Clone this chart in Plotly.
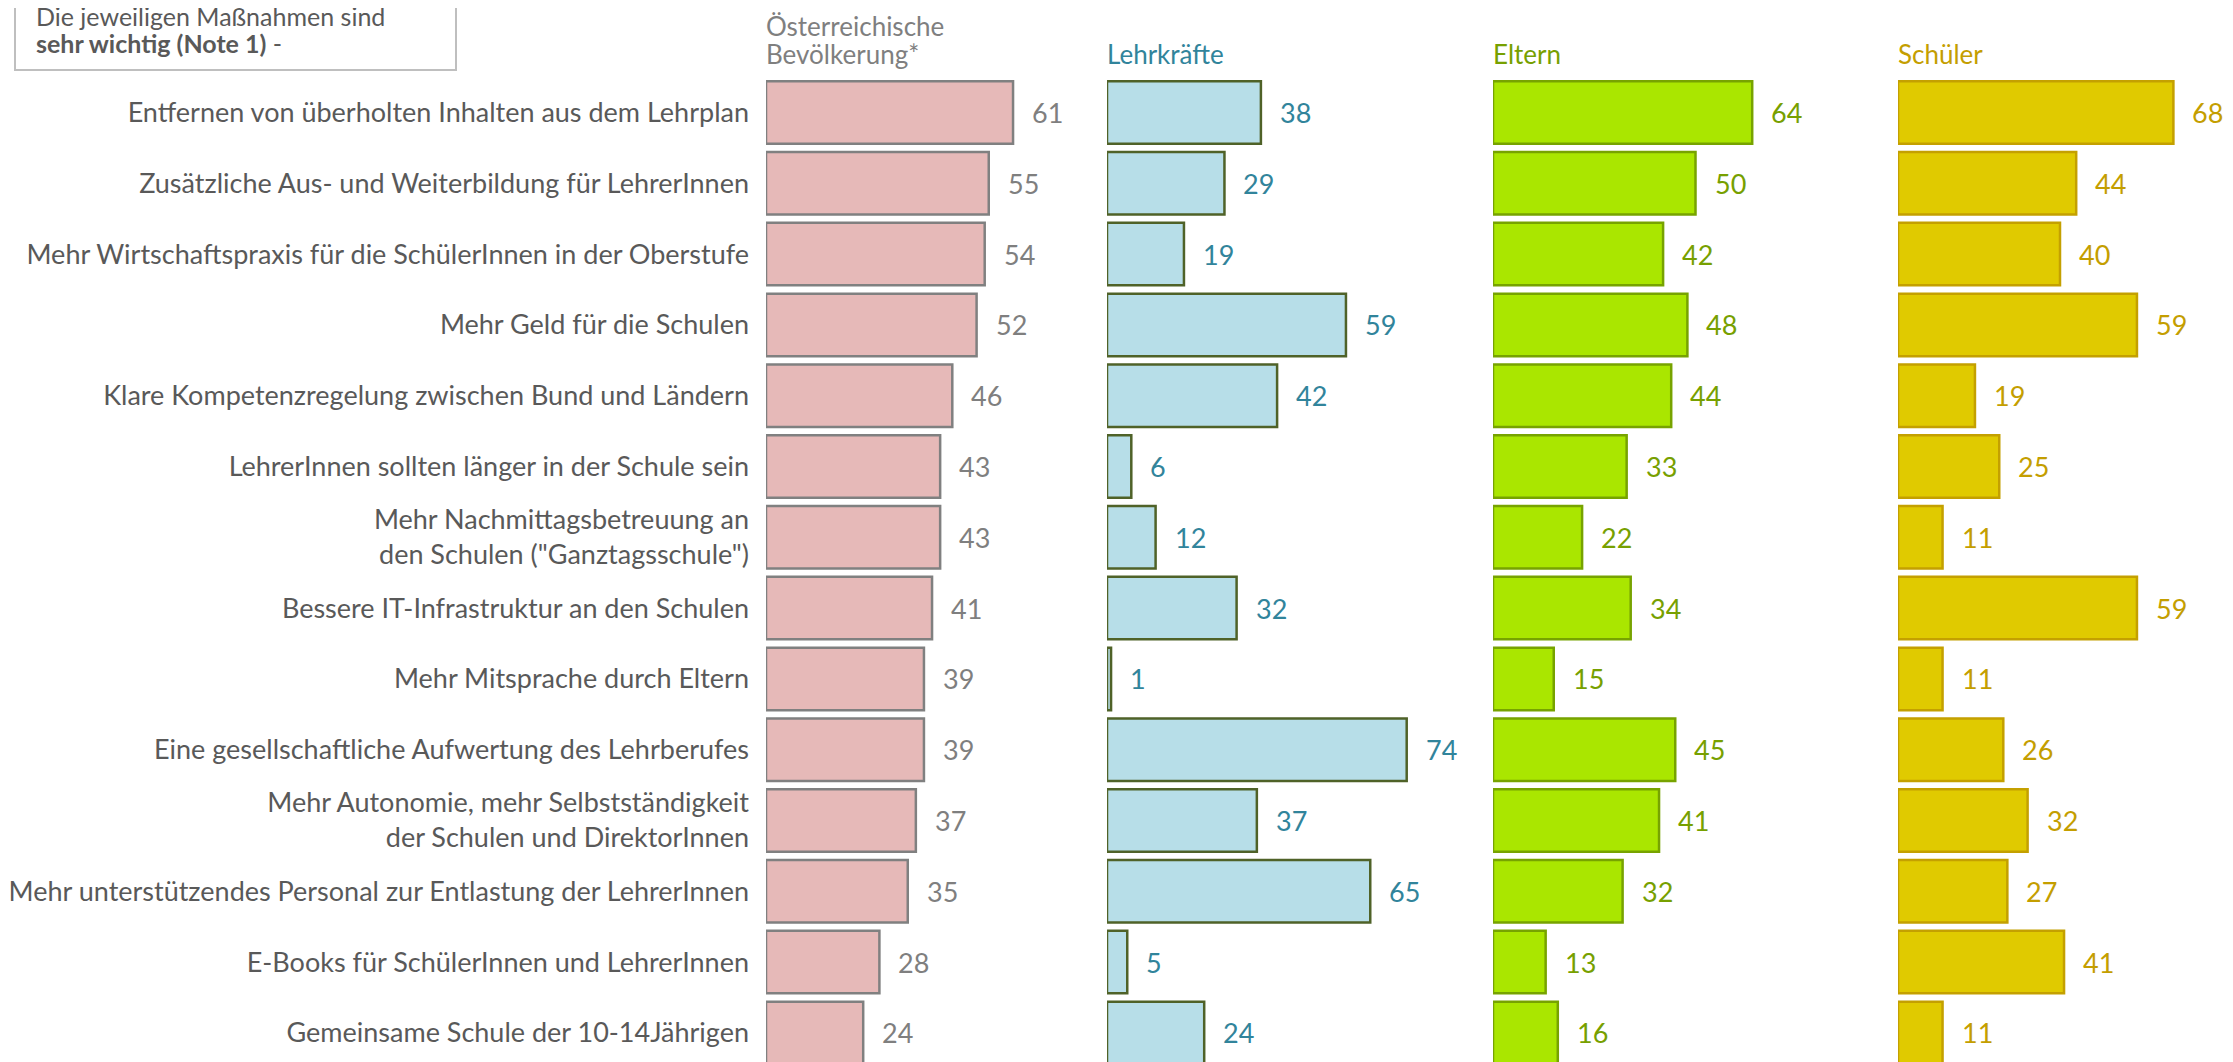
import plotly.graph_objects as go

# The page body has an 8px default margin; the figure is sized to fill the rest
OFF = 8
W, H = 2233 - OFF, 1062 - OFF

categories = [
    "Entfernen von überholten Inhalten aus dem Lehrplan",
    "Zusätzliche Aus- und Weiterbildung für LehrerInnen",
    "Mehr Wirtschaftspraxis für die SchülerInnen in der Oberstufe",
    "Mehr Geld für die Schulen",
    "Klare Kompetenzregelung zwischen Bund und Ländern",
    "LehrerInnen sollten länger in der Schule sein",
    "Mehr Nachmittagsbetreuung an<br>den Schulen (\"Ganztagsschule\")",
    "Bessere IT-Infrastruktur an den Schulen",
    "Mehr Mitsprache durch Eltern",
    "Eine gesellschaftliche Aufwertung des Lehrberufes",
    "Mehr Autonomie, mehr Selbstständigkeit<br>der Schulen und DirektorInnen",
    "Mehr unterstützendes Personal zur Entlastung der LehrerInnen",
    "E-Books für SchülerInnen und LehrerInnen",
    "Gemeinsame Schule der 10-14Jährigen",
]

bevoelkerung = [61, 55, 54, 52, 46, 43, 43, 41, 39, 39, 37, 35, 28, 24]
lehrkraefte = [38, 29, 19, 59, 42, 6, 12, 32, 1, 74, 37, 65, 5, 24]
eltern = [64, 50, 42, 48, 44, 33, 22, 34, 15, 45, 41, 32, 13, 16]
schueler = [68, 44, 40, 59, 19, 25, 11, 59, 11, 26, 32, 27, 41, 11]

series_header_lines = [["Österreichische", "Bevölkerung*"], ["Lehrkräfte"], ["Eltern"], ["Schüler"]]
series_values = [bevoelkerung, lehrkraefte, eltern, schueler]

box_lines = ["Die jeweiligen Maßnahmen sind", "<b>sehr wichtig (Note 1)</b> -"]

fills = ["#E6B9B8", "#B7DEE8", "#AAE600", "#E0CA00"]
lines = ["#808080", "#4F6228", "#77A300", "#C4A000"]
text_colors = ["#7F7F7F", "#31849B", "#77A000", "#C49E00"]

FONT = "Lato"
FS = 27

# geometry (page pixels, converted to figure pixels by subtracting OFF)
k = 4.05  # pixels per percentage point
starts = [766, 1107, 1493, 1898]
ends = [1066, 1447, 1853, 2233]
pitch = 70.8
first_center = 112.5 - OFF


def px(xp):
    return (xp - OFF) / W


def py(yp):
    return 1 - (yp - OFF) / H


fig = go.Figure()
n = len(categories)
ypos = list(range(n))

for i, vals in enumerate(series_values):
    xa = "x" if i == 0 else f"x{i+1}"
    fig.add_trace(go.Bar(
        x=vals, y=ypos, orientation="h", xaxis=xa, yaxis="y",
        marker=dict(color=fills[i], line=dict(color=lines[i], width=2.5)),
        showlegend=False, hoverinfo="x",
    ))
    for j, v in enumerate(vals):
        fig.add_annotation(
            x=v, y=j, xref=xa, yref="y", text=str(v), showarrow=False,
            xanchor="left", yanchor="middle", xshift=17,
            font=dict(family=FONT, size=FS, color=text_colors[i]),
        )
    hl = series_header_lines[i]
    centers = [26, 54] if len(hl) == 2 else [54]
    for line_txt, cy in zip(hl, centers):
        fig.add_annotation(
            x=px(starts[i] - 2), y=py(cy), xref="paper", yref="paper",
            text=line_txt, showarrow=False, xanchor="left", yanchor="middle",
            font=dict(family=FONT, size=FS - 1, color=text_colors[i]),
        )

layout_axes = {}
for i in range(4):
    key = "xaxis" if i == 0 else f"xaxis{i+1}"
    layout_axes[key] = dict(
        domain=[px(starts[i]), min(1, px(ends[i]))],
        range=[0, (ends[i] - starts[i]) / k],
        anchor="y", showgrid=False, zeroline=False, showticklabels=False,
        showline=False, ticks="", fixedrange=True,
    )

top_pos = -first_center / pitch
bot_pos = (H - first_center) / pitch

fig.update_layout(
    width=W, height=H,
    margin=dict(l=0, r=0, t=0, b=0),
    paper_bgcolor="white", plot_bgcolor="white",
    bargap=0.117,
    font=dict(family=FONT, size=FS, color="#595959"),
    yaxis=dict(
        domain=[0, 1], anchor="x", range=[bot_pos, top_pos],
        tickmode="array", tickvals=ypos, ticktext=categories,
        tickfont=dict(family=FONT, size=FS, color="#595959"),
        showgrid=False, zeroline=False, showline=False, ticks="",
        ticklabelstandoff=16,
    ),
    **layout_axes,
)

# info box at top left
fig.add_shape(
    type="rect", xref="paper", yref="paper",
    x0=px(15), x1=px(456), y0=py(70), y1=py(-10),
    line=dict(color="#BFBFBF", width=2), fillcolor="white", layer="below",
)
for line_txt, cy in zip(box_lines, [16, 43]):
    fig.add_annotation(
        x=px(34), y=py(cy), xref="paper", yref="paper",
        text=line_txt, showarrow=False, xanchor="left", yanchor="middle",
        font=dict(family=FONT, size=FS - 2, color="#595959"),
    )

fig.write_html("out.html")
